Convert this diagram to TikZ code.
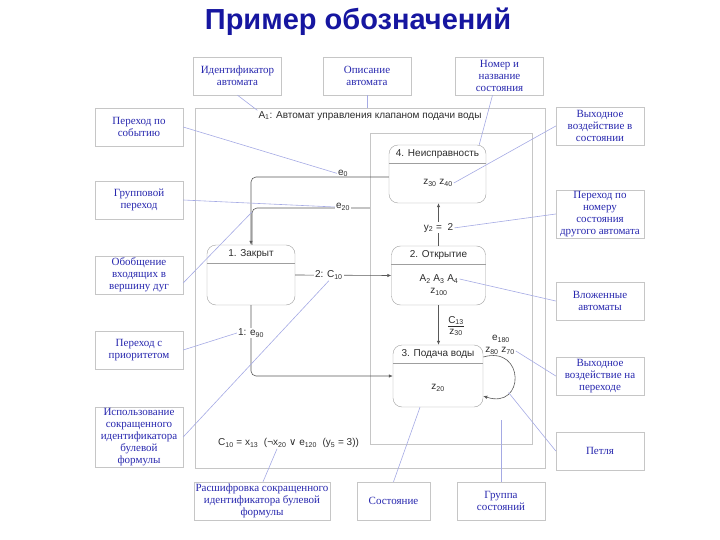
\documentclass[tikz,border=0pt]{standalone}
\usepackage{fontspec}
\setmainfont{Liberation Serif}
\setsansfont{Liberation Sans}
\newfontfamily\symfont{DejaVu Sans}
\usetikzlibrary{arrows.meta,positioning,calc}
\definecolor{noteblue}{RGB}{40,40,175}
\definecolor{noteline}{RGB}{165,170,228}
\definecolor{titleblue}{RGB}{22,22,160}
\definecolor{textgray}{RGB}{45,45,45}
\newcommand{\subs}[1]{\textsubscript{#1}}

\begin{document}
\begin{tikzpicture}[x=1pt, y=-1pt, font=\sffamily\fontsize{10}{12}\selectfont, text=textgray]
\tikzstyle{note}=[draw=gray!45, fill=white, text=noteblue, font=\rmfamily\fontsize{11}{12}\selectfont, align=center, minimum width=88pt, minimum height=38pt, inner sep=1pt]
\tikzstyle{state}=[draw=gray!75, rounded corners=9pt, fill=white, inner sep=0pt]
\tikzstyle{frame}=[draw=gray!45, inner sep=0pt]
\tikzstyle{conn}=[draw=black!65, line width=0.6pt]
\tikzstyle{arr}=[conn, -{Latex[length=4pt, width=3.5pt]}]
\tikzstyle{lbl}=[inner sep=1pt]
\tikzstyle{link}=[draw=noteline, line width=0.6pt]
\useasboundingbox (0,0) rectangle (720,540);

% title
\node[font=\sffamily\bfseries\fontsize{29}{34}\selectfont, text=titleblue] (title) at (358,22) {Пример обозначений};

% automaton and group of states
\node[frame, minimum width=350pt, minimum height=360pt] (aut) at (370,288) {};
\node[lbl] (hdr) at (370,116) {A\subs{1}: Автомат управления клапаном подачи воды};
\node[frame, minimum width=162pt, minimum height=311pt] (grp) at (451,288.5) {};

% states
\node[state, minimum width=97pt, minimum height=58pt] (s4) at (437.5,174) {};
\node[lbl] (s4t) at ([yshift=-9pt]s4.north) {4. Неисправность};
\draw[gray!75] ([yshift=-18pt]s4.north west) -- ([yshift=-18pt]s4.north east);
\node[lbl] (s4c) at (438,183) {z\subs{30} z\subs{40}};

\node[state, minimum width=94pt, minimum height=59pt] (s2) at (438.5,275.5) {};
\node[lbl] (s2t) at ([yshift=-9pt]s2.north) {2. Открытие};
\draw[gray!75] ([yshift=-18pt]s2.north west) -- ([yshift=-18pt]s2.north east);
\node[lbl] (s2a) at (439,279) {A\subs{2} A\subs{3} A\subs{4}};
\node[lbl] (s2z) at (439,292) {z\subs{100}};

\node[state, minimum width=88pt, minimum height=60pt] (s1) at (251,275) {};
\node[lbl] (s1t) at ([yshift=-9pt]s1.north) {1. Закрыт};
\draw[gray!75] ([yshift=-18pt]s1.north west) -- ([yshift=-18pt]s1.north east);

\node[state, minimum width=90pt, minimum height=62pt] (s3) at (438,376) {};
\node[lbl] (s3t) at ([yshift=-9pt]s3.north) {3. Подача воды};
\draw[gray!75] ([yshift=-18pt]s3.north west) -- ([yshift=-18pt]s3.north east);
\node[lbl] (s3c) at (438,388) {z\subs{20}};

% transitions
\coordinate (g20) at (grp.west |- 0,208);
\coordinate (join) at (252,212);
\draw[conn, rounded corners=5pt] (g20) -| ([xshift=1pt]s1.north);
\draw[arr, rounded corners=5pt] ([yshift=-3pt]s4.west) -| (s1.north);
\node[lbl, anchor=south] (le0) at (343,178) {e\subs{0}};
\node[lbl, fill=white] (le20) at (343,207) {e\subs{20}};
\draw[arr] (s1.east) -- node[lbl, fill=white, pos=0.35] (lc10) {2: C\subs{10}} (s2.west);
\draw[arr] (s2.north) -- node[lbl, fill=white, pos=0.42] (ly2) {y\subs{2} =\ \ 2} (s2.north |- s4.south);
\draw[arr] (s2.south) -- (s2.south |- s3.north);
\node[lbl, align=center] (lc13) at (456,326) {\underline{C\subs{13}}\\[-1pt]z\subs{30}};
\draw[arr, rounded corners=5pt] (s1.south) |- (s3.west);
\node[lbl, fill=white] (le90) at (251,333) {1: e\subs{90}};
\draw[arr] ([yshift=19pt]s3.east) .. controls +(42,-12) and +(42,14) .. coordinate[pos=0.72] (loopp) ([yshift=-20pt]s3.east);
\node[lbl] (le180) at (501,339) {e\subs{180}};
\node[lbl] (lz8070) at (500,351) {z\subs{80} z\subs{70}};
\node[lbl, anchor=west] (lform) at (217,443) {C\subs{10} = x\subs{13}\ \ (¬x\subs{20} {\symfont ∨} e\subs{120}\ \ (y\subs{5} = 3))};
\coordinate (grpin) at (501,420);

% notes
\node[note] (idn) at (237.5,76) {Идентификатор\\автомата};
\node[note] (desc) at (367,76) {Описание\\автомата};
\node[note] (num) at (499.5,76) {Номер и\\название\\состояния};
\node[note] (ev) at (139,127) {Переход по\\событию};
\node[note] (grpn) at (139,200) {Групповой\\переход};
\node[note] (gen) at (139,275) {Обобщение\\входящих в\\вершину дуг};
\node[note] (prio) at (139,350) {Переход с\\приоритетом};
\node[note] (abbr) at (139,437) {Использование\\сокращенного\\идентификатора\\булевой\\формулы};
\node[note] (outst) at (600,126) {Выходное\\воздействие в\\состоянии};
\node[note] (other) at (600,214) {Переход по\\номеру\\состояния\\другого автомата};
\node[note] (nest) at (600,301) {Вложенные\\автоматы};
\node[note] (outtr) at (600,376) {Выходное\\воздействие на\\переходе};
\node[note] (loopn) at (600,451) {Петля};
\node[note, minimum width=136pt] (dec) at (262,501) {Расшифровка сокращенного\\идентификатора булевой\\формулы};
\node[note, minimum width=73pt] (stn) at (393.5,501) {Состояние};
\node[note] (grpst) at (501,501) {Группа\\состояний};

% note links
\draw[link] (idn.south) -- (hdr.north west);
\draw[link] (desc.south) -- (desc.south |- aut.north);
\draw[link] ([xshift=-7pt]num.south) -- ([xshift=-7pt]s4.north east);
\draw[link] (ev.east) -- (le0.west);
\draw[link] (grpn.east) -- (le20.west);
\draw[link] ([yshift=-8pt]gen.east) -- (join);
\draw[link] (prio.east) -- (le90.west);
\draw[link] (abbr.east) -- (lc10.south);
\draw[link] (outst.west) -- (s4c.east);
\draw[link] (other.west) -- (ly2.east);
\draw[link] (nest.west) -- (s2a.east);
\draw[link] (outtr.west) -- (lz8070.east);
\draw[link] (loopn.west) -- (loopp);
\draw[link] ([xshift=1pt]dec.north) -- ([xshift=60pt]lform.south west);
\draw[link] (stn.north) -- ([xshift=-18pt]s3.south);
\draw[link] (grpst.north) -- (grpin);
\end{tikzpicture}
\end{document}
